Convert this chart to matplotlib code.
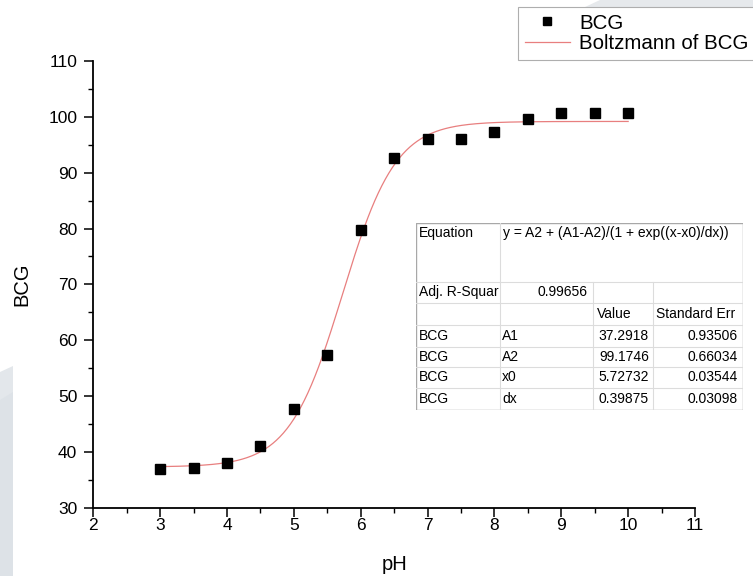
import numpy as np
import matplotlib
matplotlib.use("Agg")
import matplotlib.pyplot as plt
from matplotlib.patches import Polygon
from matplotlib.ticker import MultipleLocator

plt.rcParams['font.family'] = ['Liberation Sans', 'DejaVu Sans']

# Data
ph = [3, 3.5, 4, 4.5, 5, 5.5, 6, 6.5, 7, 7.5, 8, 8.5, 9, 9.5, 10]
bcg = [36.9, 37.1, 38.0, 41.1, 47.6, 57.4, 79.8, 92.6, 96.0, 96.0, 97.3, 99.6, 100.7, 100.7, 100.6]

# Boltzmann fit parameters (from the table in the chart)
A1, A2, x0, dx = 37.2918, 99.1746, 5.72732, 0.39875
fit_x_range = (3, 10)

table_rows = [
    ["Adj. R-Squar", "0.99656", "", ""],
    ["", "", "Value", "Standard Err"],
    ["BCG", "A1", "37.2918", "0.93506"],
    ["BCG", "A2", "99.1746", "0.66034"],
    ["BCG", "x0", "5.72732", "0.03544"],
    ["BCG", "dx", "0.39875", "0.03098"],
]
equation = "y = A2 + (A1-A2)/(1 + exp((x-x0)/dx))"

W, H = 753, 576
fig = plt.figure(figsize=(W / 100, H / 100), dpi=100)


def fx(px):
    return px / W


def fy(py):
    return 1 - py / H


# faint background shapes
bg = fig.add_axes([0, 0, 1, 1], zorder=-10)
bg.set_xlim(0, W)
bg.set_ylim(H, 0)
bg.axis('off')
bg.add_patch(Polygon([(0, 372), (13, 366), (13, 576), (0, 576)], closed=True,
                     facecolor='#e3e7eb', edgecolor='none'))
bg.add_patch(Polygon([(0, 400), (13, 392), (13, 576), (0, 576)], closed=True,
                     facecolor='#dde2e7', edgecolor='none'))
bg.add_patch(Polygon([(585, 7), (600, 0), (753, 0), (753, 7)], closed=True,
                     facecolor='#e6e9ec', edgecolor='none'))

# main axes
left, right, top, bottom = 93.3, 695, 61, 507.7
ax = fig.add_axes([fx(left), fy(bottom), fx(right) - fx(left), fy(top) - fy(bottom)])
ax.patch.set_alpha(0)

xs = np.linspace(fit_x_range[0], fit_x_range[1], 400)
ys = A2 + (A1 - A2) / (1 + np.exp((xs - x0) / dx))
fit_line, = ax.plot(xs, ys, color='#e87f7f', lw=0.9, label='Boltzmann of BCG', zorder=2)
pts, = ax.plot(ph, bcg, 's', color='black', markersize=6.8, label='BCG', zorder=3)

ax.set_xlim(2, 11)
ax.set_ylim(30, 110)
ax.xaxis.set_major_locator(MultipleLocator(1))
ax.xaxis.set_minor_locator(MultipleLocator(0.5))
ax.yaxis.set_major_locator(MultipleLocator(10))
ax.yaxis.set_minor_locator(MultipleLocator(5))
for s in ['top', 'right']:
    ax.spines[s].set_visible(False)
for s in ['left', 'bottom']:
    ax.spines[s].set_linewidth(1.3)
ax.tick_params(which='major', direction='out', length=6.5, width=1.1, labelsize=12.5)
ax.tick_params(which='minor', direction='out', length=3.5, width=1.0)
ax.tick_params(axis='x', which='major', pad=1)
ax.tick_params(axis='y', which='major', pad=5)
ax.set_xlabel('pH', fontsize=14.5, labelpad=16)
ax.set_ylabel('BCG', fontsize=14.5, labelpad=12)

# legend (frame runs off the right edge as in the original)
leg = fig.legend(handles=[pts, fit_line], labels=['BCG', 'Boltzmann of BCG'],
                 loc='upper left', bbox_to_anchor=(fx(518), fy(7)),
                 fontsize=14.8, frameon=True, fancybox=False,
                 borderpad=0.32, labelspacing=0.08, handlelength=2.2,
                 handletextpad=0.45, borderaxespad=0, markerscale=0.85)
leg.get_frame().set_edgecolor('#9a9a9a')
leg.get_frame().set_linewidth(0.8)

# fit results table
tl, tr, tt, tb = 416, 743, 223, 410
tax = fig.add_axes([fx(tl), fy(tb), fx(tr) - fx(tl), fy(tt) - fy(tb)], zorder=5)
tax.set_xlim(tl, tr)
tax.set_ylim(tb, tt)
tax.axis('off')
tax.add_patch(plt.Rectangle((tl, tt), tr - tl, tb - tt, facecolor='white',
                            edgecolor='#a8a8a8', lw=1.0))
cols = [416, 500, 593, 653, 743]
rows = [223, 281.7, 303.3, 325, 346.7, 366.7, 388.3, 410]
inner = '#dcdcdc'
for yv in rows[1:-1]:
    tax.plot([tl, tr], [yv, yv], color=inner, lw=0.8)
tax.plot([cols[1], cols[1]], [tt, tb], color=inner, lw=0.8)
for xv in cols[2:4]:
    tax.plot([xv, xv], [rows[1], tb], color=inner, lw=0.8)

fs = 10
tax.text(cols[0] + 3, 233, 'Equation', fontsize=fs, va='center', ha='left')
tax.text(cols[1] + 3, 233, equation, fontsize=fs, va='center', ha='left')
for i, row in enumerate(table_rows):
    yc = (rows[i + 1] + rows[i + 2]) / 2
    c0, c1, c2, c3 = row
    tax.text(cols[0] + 3, yc, c0, fontsize=fs, va='center', ha='left')
    if c1.replace('.', '').isdigit():
        tax.text(cols[2] - 5, yc, c1, fontsize=fs, va='center', ha='right')
    else:
        tax.text(cols[1] + 2, yc, c1, fontsize=fs, va='center', ha='left')
    if c2 == 'Value':
        tax.text(cols[2] + 4, yc, c2, fontsize=fs, va='center', ha='left')
    else:
        tax.text(cols[3] - 4, yc, c2, fontsize=fs, va='center', ha='right')
    if c3 == 'Standard Err':
        tax.text(cols[3] + 3, yc, c3, fontsize=fs, va='center', ha='left')
    else:
        tax.text(cols[4] - 5, yc, c3, fontsize=fs, va='center', ha='right')

fig.savefig('out.png', dpi=100)
